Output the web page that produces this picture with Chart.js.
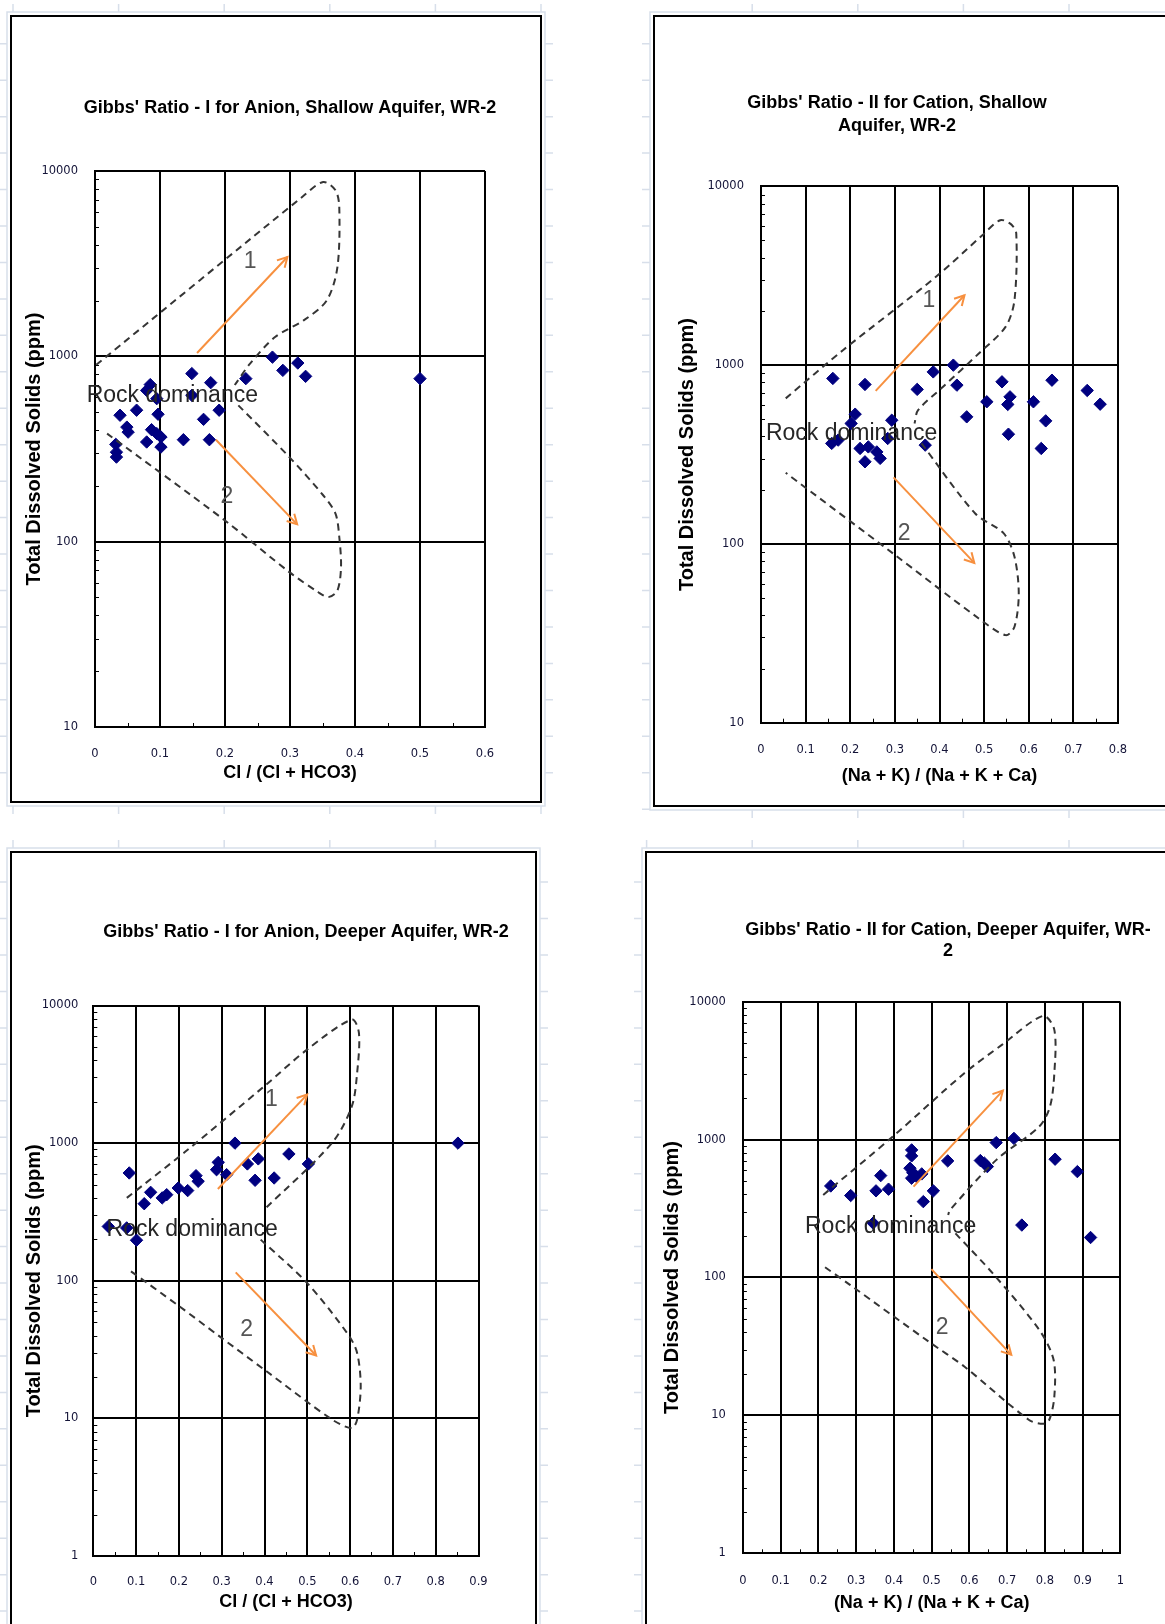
<!DOCTYPE html>
<html>
<head>
<meta charset="utf-8">
<title>Gibbs diagrams, WR-2</title>
<script src="https://cdn.jsdelivr.net/npm/chart.js@4.4.1/dist/chart.umd.min.js"></script>
<style>
  html, body { margin: 0; padding: 0; background: #fff; }
  body { width: 1165px; height: 1624px; overflow: hidden; position: relative; }
  #sheet { position: absolute; left: 0; top: 0; }
  .box { position: absolute; border: 2px solid #000; background: #fff; box-sizing: border-box; }
  .box canvas { position: absolute; left: 0; top: 0; }
</style>
</head>
<body>
<canvas id="sheet" width="1165" height="1624"></canvas>
<script>
// ---------- axis ticks ----------
const xTicksAnionShallow  = [0, 0.1, 0.2, 0.3, 0.4, 0.5, 0.6];
const xTicksCationShallow = [0, 0.1, 0.2, 0.3, 0.4, 0.5, 0.6, 0.7, 0.8];
const xTicksAnionDeep     = [0, 0.1, 0.2, 0.3, 0.4, 0.5, 0.6, 0.7, 0.8, 0.9];
const xTicksCationDeep    = [0, 0.1, 0.2, 0.3, 0.4, 0.5, 0.6, 0.7, 0.8, 0.9, 1];
const yTicksShallow = [10, 100, 1000, 10000];
const yTicksDeep    = [1, 10, 100, 1000, 10000];

// ---------- samples: ratio vs total dissolved solids (ppm) ----------
const shallowAnionRatio = [0.273, 0.289, 0.312, 0.324, 0.500, 0.232, 0.149, 0.178, 0.085, 0.0795, 0.0385, 0.064, 0.095, 0.149, 0.191, 0.167, 0.097, 0.049, 0.051, 0.087, 0.095, 0.1015, 0.0795, 0.1015, 0.136, 0.176, 0.032, 0.033, 0.033];
const shallowAnionTDS   = [990, 840, 920, 780, 758, 758, 807, 721, 704, 655, 481, 512, 591, 616, 512, 457, 487, 415, 390, 402, 383, 367, 345, 324, 355, 355, 335, 304, 286];

const shallowCationRatio = [0.161, 0.233, 0.350, 0.386, 0.431, 0.439, 0.461, 0.506, 0.540, 0.558, 0.553, 0.5545, 0.6105, 0.652, 0.638, 0.628, 0.731, 0.760, 0.211, 0.202, 0.293, 0.1585, 0.173, 0.222, 0.2405, 0.233, 0.2595, 0.267, 0.284, 0.368];
const shallowCationTDS   = [843, 780, 732, 917, 1000, 773, 514, 624, 807, 665, 603, 411, 624, 824, 488, 342, 722, 605, 532, 472, 492, 365, 381, 342, 349, 288, 327, 301, 389, 357];

const deepAnionRatio = [0.331, 0.852, 0.084, 0.119, 0.134, 0.161, 0.1715, 0.1985, 0.2205, 0.240, 0.245, 0.292, 0.288, 0.3115, 0.360, 0.3855, 0.378, 0.4225, 0.457, 0.5025, 0.035, 0.078, 0.101];
const deepAnionTDS   = [1000, 1000, 607, 363, 439, 400, 422, 472, 452, 580, 528, 725, 641, 590, 706, 768, 537, 558, 834, 706, 248, 242, 197];

const deepCationRatio = [0.718, 0.671, 0.447, 0.447, 0.4425, 0.450, 0.460, 0.4737, 0.447, 0.5425, 0.629, 0.6397, 0.6475, 0.827, 0.886, 0.2326, 0.2855, 0.365, 0.3526, 0.3858, 0.5045, 0.4779, 0.345, 0.7389, 0.921];
const deepCationTDS   = [1020, 951, 842, 762, 620, 576, 539, 564, 525, 701, 705, 675, 637, 721, 586, 461, 393, 548, 425, 437, 425, 355, 248, 240, 195];

// ---------- Gibbs boomerang outlines (dashed) ----------
const envSAUpperX = [0.002, 0.32, 0.351, 0.370, 0.3758, 0.373, 0.3566, 0.321, 0.277, 0.2385, 0.215];
const envSAUpperY = [900, 7300, 8725, 7870, 6400, 3035, 2005, 1563, 1271, 913, 700];
const envSALowerX = [0.2205, 0.299, 0.351, 0.370, 0.3758, 0.3785, 0.373, 0.359, 0.343, 0.299, 0.2, 0.0186];
const envSALowerY = [544, 286, 178, 141.6, 106, 73, 54.6, 50.2, 53.5, 68.5, 130, 383];

const envSCUpperX = [0.0554, 0.1836, 0.392, 0.496, 0.536, 0.560, 0.572, 0.568, 0.548, 0.488, 0.408, 0.352, 0.344];
const envSCUpperY = [652, 1213, 3120, 5330, 6470, 6150, 5450, 2310, 1637, 1162, 757, 560, 472];
const envSCLowerX = [0.3597, 0.48, 0.544, 0.568, 0.5776, 0.568, 0.548, 0.488, 0.2957, 0.0554];
const envSCLowerY = [365, 148, 114.5, 84.7, 52.8, 34.4, 30.9, 38.3, 88.5, 250];

const envDAUpperX = [0.0783, 0.216, 0.3995, 0.4995, 0.604, 0.6206, 0.6164, 0.604, 0.5577, 0.3995];
const envDAUpperY = [400, 872, 2590, 4780, 7900, 6320, 3236, 1850, 1003, 329];
const envDALowerX = [0.391, 0.4995, 0.5956, 0.6164, 0.6248, 0.6164, 0.604, 0.558, 0.3995, 0.295, 0.199, 0.0825];
const envDALowerY = [199, 96.4, 40.6, 29.9, 17.1, 9.8, 8.5, 9.8, 22.6, 39.4, 65.9, 120.5];

const envDCUpperX = [0.2127, 0.397, 0.5865, 0.686, 0.795, 0.825, 0.825, 0.8135, 0.785, 0.6715, 0.5486, 0.5438];
const envDCUpperY = [397, 1051, 3030, 4860, 7890, 6245, 3030, 1734, 1242, 713, 309, 284];
const envDCLowerX = [0.563, 0.662, 0.785, 0.823, 0.825, 0.8116, 0.795, 0.757, 0.5865, 0.492, 0.2837, 0.2127];
const envDCLowerY = [209, 107, 41.7, 25.3, 13.7, 9.3, 8.7, 9.3, 22.6, 34.3, 88.4, 121.4];

// ---------- trend arrows (start, end) ----------
const arrSA1X = [0.157, 0.296],  arrSA1Y = [1042, 3435];
const arrSA2X = [0.186, 0.311],  arrSA2Y = [355, 124];
const arrSC1X = [0.257, 0.456],  arrSC1Y = [718, 2460];
const arrSC2X = [0.297, 0.478],  arrSC2Y = [235.6, 78.3];
const arrDA1X = [0.291, 0.4995], arrDA1Y = [464, 2252];
const arrDA2X = [0.3327, 0.5206], arrDA2Y = [115, 28.6];
const arrDC1X = [0.452, 0.6887], arrDC1Y = [456, 2265];
const arrDC2X = [0.4994, 0.711], arrDC2Y = [115, 27.5];

// ---------- styling ----------
const FONT = "'Liberation Sans', Arial, Helvetica, sans-serif";
const TICK_FONT = "'DejaVu Sans', 'Liberation Sans', sans-serif";
const NAVY = '#000080';
const ORANGE = '#f7903f';
const DASH = '#353535';
const TICK_COLOR = '#141438';
Chart.defaults.font.family = FONT;

function pts(xs, ys) { return xs.map((x, i) => ({ x: x, y: ys[i] })); }

// minor tick marks, arrow heads, region labels and the chart heading
const gibbsDecor = {
  id: 'gibbsDecor',
  beforeDatasetsDraw(chart, args, opts) {
    const { ctx, chartArea: a, scales: { x, y } } = chart;
    ctx.save();
    ctx.strokeStyle = '#000';
    ctx.lineWidth = 1;
    ctx.beginPath();
    const lo = Math.round(Math.log10(y.min)), hi = Math.round(Math.log10(y.max));
    for (let e = lo; e < hi; e++) {
      for (let k = 2; k <= 9; k++) {
        const py = Math.round(y.getPixelForValue(k * Math.pow(10, e))) + 0.5;
        ctx.moveTo(a.left, py); ctx.lineTo(a.left + 4, py);
      }
    }
    const t = opts.xTicks;
    for (let i = 0; i < t.length - 1; i++) {
      const px = Math.round(x.getPixelForValue((t[i] + t[i + 1]) / 2)) + 0.5;
      ctx.moveTo(px, a.bottom); ctx.lineTo(px, a.bottom - 4);
    }
    ctx.stroke();
    ctx.restore();
  },
  afterDatasetsDraw(chart, args, opts) {
    const { ctx, scales: { x, y } } = chart;
    ctx.save();
    chart.data.datasets.forEach((ds, i) => {
      if (!ds.arrow) return;
      const el = chart.getDatasetMeta(i).data;
      const p = el[el.length - 2], q = el[el.length - 1];
      const ang = Math.atan2(q.y - p.y, q.x - p.x);
      const len = 11, spread = 0.5;
      ctx.strokeStyle = ds.borderColor;
      ctx.lineWidth = ds.borderWidth;
      ctx.beginPath();
      ctx.moveTo(q.x - len * Math.cos(ang - spread), q.y - len * Math.sin(ang - spread));
      ctx.lineTo(q.x, q.y);
      ctx.lineTo(q.x - len * Math.cos(ang + spread), q.y - len * Math.sin(ang + spread));
      ctx.stroke();
    });
    opts.labels.forEach(l => {
      ctx.font = l.size + 'px ' + FONT;
      ctx.fillStyle = l.color;
      ctx.textAlign = l.align || 'center';
      ctx.textBaseline = 'middle';
      ctx.fillText(l.text, x.getPixelForValue(l.x), y.getPixelForValue(l.y));
    });
    ctx.font = 'bold 18px ' + FONT;
    ctx.fillStyle = '#000';
    ctx.textAlign = 'center';
    ctx.textBaseline = 'middle';
    opts.title.forEach((line, i) => ctx.fillText(line, opts.titleAt[0], opts.titleAt[1] + i * opts.titleGap));
    ctx.restore();
  }
};

const panels = [
  {
    box: [10, 15, 532, 788],
    title: ["Gibbs' Ratio - I for Anion, Shallow Aquifer, WR-2"], titleAt: [278, 91], titleGap: 22,
    xTitle: 'Cl / (Cl + HCO3)', xTicks: xTicksAnionShallow, yTicks: yTicksShallow,
    ratio: shallowAnionRatio, tds: shallowAnionTDS,
    env: [[envSAUpperX, envSAUpperY], [envSALowerX, envSALowerY]],
    arrows: [[arrSA1X, arrSA1Y], [arrSA2X, arrSA2Y]],
    labels: [
      { text: '1', x: 0.2385, y: 3230, size: 23, color: '#555' },
      { text: '2', x: 0.2028, y: 174, size: 23, color: '#555' },
      { text: 'Rock dominance', x: -0.0128, y: 616, size: 23, color: '#262626', align: 'left' }
    ],
    pad: { left: 10, right: 55, top: 154, bottom: 16.9 }, yW: 73, xH: 57.1, yTickPad: 17, xTickPad: 20
  },
  {
    box: [653, 15, 560, 792],
    title: ["Gibbs' Ratio - II for Cation, Shallow", 'Aquifer, WR-2'], titleAt: [242, 86], titleGap: 23,
    xTitle: '(Na + K) / (Na + K + Ca)', xTicks: xTicksCationShallow, yTicks: yTicksShallow,
    ratio: shallowCationRatio, tds: shallowCationTDS,
    env: [[envSCUpperX, envSCUpperY], [envSCLowerX, envSCLowerY]],
    arrows: [[arrSC1X, arrSC1Y], [arrSC2X, arrSC2Y]],
    labels: [
      { text: '1', x: 0.376, y: 2300, size: 23, color: '#555' },
      { text: '2', x: 0.321, y: 113.5, size: 23, color: '#555' },
      { text: 'Rock dominance', x: 0.011, y: 415, size: 23, color: '#262626', align: 'left' }
    ],
    pad: { left: 20, right: 93, top: 169.4, bottom: 18.5 }, yW: 86, xH: 63.8, yTickPad: 17, xTickPad: 20
  },
  {
    box: [10, 851, 527, 800],
    title: ["Gibbs' Ratio - I for Anion, Deeper Aquifer, WR-2"], titleAt: [294, 79], titleGap: 22,
    xTitle: 'Cl / (Cl + HCO3)', xTicks: xTicksAnionDeep, yTicks: yTicksDeep,
    ratio: deepAnionRatio, tds: deepAnionTDS,
    env: [[envDAUpperX, envDAUpperY], [envDALowerX, envDALowerY]],
    arrows: [[arrDA1X, arrDA1Y], [arrDA2X, arrDA2Y]],
    labels: [
      { text: '1', x: 0.416, y: 2070, size: 23, color: '#555' },
      { text: '2', x: 0.358, y: 44.1, size: 23, color: '#555' },
      { text: 'Rock dominance', x: 0.031, y: 235, size: 23, color: '#262626', align: 'left' }
    ],
    pad: { left: 10, right: 56.5, top: 152.5, bottom: 36.5 }, yW: 71.3, xH: 56.5, yTickPad: 15, xTickPad: 19
  },
  {
    box: [645, 851, 570, 800],
    title: ["Gibbs' Ratio - II for Cation, Deeper Aquifer, WR-", '2'], titleAt: [301, 77], titleGap: 21,
    xTitle: '(Na + K) / (Na + K + Ca)', xTicks: xTicksCationDeep, yTicks: yTicksDeep,
    ratio: deepCationRatio, tds: deepCationTDS,
    env: [[envDCUpperX, envDCUpperY], [envDCLowerX, envDCLowerY]],
    arrows: [[arrDC1X, arrDC1Y], [arrDC2X, arrDC2Y]],
    labels: [
      { text: '2', x: 0.5277, y: 43.6, size: 23, color: '#555' },
      { text: 'Rock dominance', x: 0.1645, y: 234, size: 23, color: '#262626', align: 'left' }
    ],
    pad: { left: 13, right: 92.6, top: 148.7, bottom: 35.5 }, yW: 82.9, xH: 60.2, yTickPad: 17, xTickPad: 21
  }
];

// faint worksheet cell edges showing round each chart object
(function drawSheet() {
  const ctx = document.getElementById('sheet').getContext('2d');
  ctx.strokeStyle = '#d8dfea';
  ctx.lineWidth = 1.5;
  const cols = [], rows = [];
  for (let k = 0; k < 12; k++) cols.push(13 + 105.6 * k);
  for (let k = 0; k < 46; k++) rows.push(7.3 + 36.45 * k);
  panels.forEach(p => {
    const [bx, by, bw, bh] = p.box;
    const l = bx - 3, t = by - 3, r = bx + bw + 3, b = by + bh + 3;
    ctx.beginPath();
    ctx.rect(l, t, r - l, b - t);
    cols.forEach(cx => {
      if (cx > l && cx < r) { ctx.moveTo(cx, t); ctx.lineTo(cx, t - 8); ctx.moveTo(cx, b); ctx.lineTo(cx, b + 8); }
    });
    rows.forEach(ry => {
      if (ry > t && ry < b) { ctx.moveTo(l, ry); ctx.lineTo(l - 8, ry); ctx.moveTo(r, ry); ctx.lineTo(r + 8, ry); }
    });
    ctx.stroke();
  });
})();

panels.forEach(p => {
  const [bx, by, bw, bh] = p.box;
  const box = document.createElement('div');
  box.className = 'box';
  Object.assign(box.style, { left: bx + 'px', top: by + 'px', width: bw + 'px', height: bh + 'px' });
  const canvas = document.createElement('canvas');
  canvas.width = bw - 4;
  canvas.height = bh - 4;
  box.appendChild(canvas);
  document.body.appendChild(box);

  const datasets = [{
    data: pts(p.ratio, p.tds),
    pointStyle: 'rectRot', pointRadius: 6.2,
    backgroundColor: NAVY, borderColor: NAVY, borderWidth: 1,
    order: 3
  }];
  p.env.forEach(([xs, ys]) => datasets.push({
    data: pts(xs, ys), showLine: true, pointRadius: 0, tension: 0.3,
    borderColor: DASH, borderWidth: 2, borderDash: [7, 5], order: 2
  }));
  p.arrows.forEach(([xs, ys]) => datasets.push({
    data: pts(xs, ys), showLine: true, pointRadius: 0, arrow: true,
    borderColor: ORANGE, borderWidth: 2, order: 1
  }));

  new Chart(canvas, {
    type: 'scatter',
    data: { datasets },
    options: {
      responsive: false,
      animation: false,
      devicePixelRatio: 1,
      layout: { padding: p.pad },
      plugins: {
        legend: { display: false },
        tooltip: { enabled: false },
        title: { display: false },
        gibbsDecor: { xTicks: p.xTicks, labels: p.labels, title: p.title, titleAt: p.titleAt, titleGap: p.titleGap }
      },
      scales: {
        x: {
          type: 'linear',
          min: p.xTicks[0], max: p.xTicks[p.xTicks.length - 1],
          afterBuildTicks: s => { s.ticks = p.xTicks.map(v => ({ value: v })); },
          afterFit: s => { s.height = p.xH; },
          ticks: {
            autoSkip: false, maxRotation: 0, padding: p.xTickPad,
            color: TICK_COLOR, font: { family: TICK_FONT, size: 11.5 },
            callback: v => String(+Number(v).toFixed(1))
          },
          grid: { color: '#000', lineWidth: 2, drawTicks: false },
          border: { display: true, color: '#000', width: 2 },
          title: { display: true, text: p.xTitle, color: '#000', padding: 0, font: { family: FONT, size: 18, weight: 'bold' } }
        },
        y: {
          type: 'logarithmic',
          min: p.yTicks[0], max: p.yTicks[p.yTicks.length - 1],
          afterBuildTicks: s => { s.ticks = p.yTicks.map(v => ({ value: v })); },
          afterFit: s => { s.width = p.yW; },
          ticks: {
            autoSkip: false, padding: p.yTickPad,
            color: TICK_COLOR, font: { family: TICK_FONT, size: 11.5 },
            callback: v => String(v)
          },
          grid: { color: '#000', lineWidth: 2, drawTicks: false },
          border: { display: true, color: '#000', width: 2 },
          title: { display: true, text: 'Total Dissolved Solids (ppm)', color: '#000', padding: 0, font: { family: FONT, size: 20, weight: 'bold' } }
        }
      }
    },
    plugins: [gibbsDecor]
  });
});
</script>
</body>
</html>
